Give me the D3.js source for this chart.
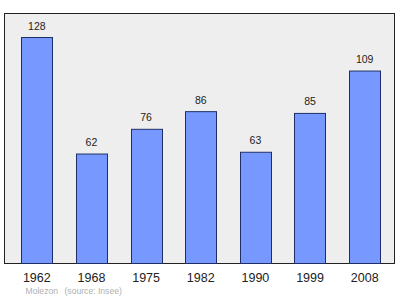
<!DOCTYPE html>
<html>
<head>
<meta charset="utf-8">
<script src="https://cdn.jsdelivr.net/npm/d3@7"></script>
<style>
  body { margin: 0; background: #fff; }
  svg { display: block; font-family: "Liberation Sans", Arial, sans-serif; }
</style>
</head>
<body>
<div id="chart"></div>
<script>
// population by census year
var years = ['1962', '1968', '1975', '1982', '1990', '1999', '2008'];
var population = [128, 62, 76, 86, 63, 85, 109];
var commune = 'Molezon';
var sourceNote = '(source: Insee)';

var width = 400, height = 299;
var plot = { left: 4.5, top: 13.5, right: 394.5, bottom: 263.5 };

var svg = d3.select('#chart').append('svg')
    .attr('width', width)
    .attr('height', height);

svg.append('rect')
    .attr('x', plot.left)
    .attr('y', plot.top)
    .attr('width', plot.right - plot.left)
    .attr('height', plot.bottom - plot.top)
    .style('fill', '#eeeeee')
    .style('stroke', '#222')
    .style('stroke-width', 1);

var x = d3.scaleBand()
    .domain(years)
    .range([9.5, 392])
    .paddingInner(0.43)
    .paddingOuter(0.215);

var y = d3.scaleLinear()
    .domain([0, 128])
    .range([plot.bottom, 37.5]);

var data = years.map(function(d, i) { return { year: d, value: population[i] }; });

svg.selectAll('.bar')
    .data(data)
    .enter().append('rect')
    .attr('class', 'bar')
    .attr('x', function(d) { return Math.round(x(d.year)) + 0.5; })
    .attr('y', function(d) { return y(d.value); })
    .attr('width', Math.round(x.bandwidth()))
    .attr('height', function(d) { return plot.bottom - y(d.value); })
    .style('fill', '#7799ff')
    .style('stroke', '#1f2f66')
    .style('stroke-width', 1);

svg.selectAll('.val')
    .data(data)
    .enter().append('text')
    .attr('class', 'val')
    .attr('x', function(d) { return x(d.year) + x.bandwidth() / 2; })
    .attr('y', function(d) { return y(d.value) - 8; })
    .attr('text-anchor', 'middle')
    .style('font-size', '10.5px')
    .style('fill', '#222')
    .text(function(d) { return d.value; });

// year labels along the bottom
var xAxis = d3.axisBottom(x).tickSize(0).tickPadding(0);
var gx = svg.append('g')
    .attr('transform', 'translate(0,' + plot.bottom + ')')
    .call(xAxis);
gx.select('.domain').remove();
gx.selectAll('text')
    .attr('y', 18.5)
    .attr('dy', null)
    .style('font-size', '12.5px')
    .style('fill', '#222')
    .style('font-family', '"Liberation Sans", Arial, sans-serif');

svg.append('text')
    .attr('x', 25.5)
    .attr('y', 293.5)
    .style('font-size', '8.6px')
    .style('fill', '#b0b0b0')
    .text(commune);

svg.append('text')
    .attr('x', 64.5)
    .attr('y', 293.5)
    .style('font-size', '8.6px')
    .style('fill', '#b0b0b0')
    .text(sourceNote);
</script>
</body>
</html>
